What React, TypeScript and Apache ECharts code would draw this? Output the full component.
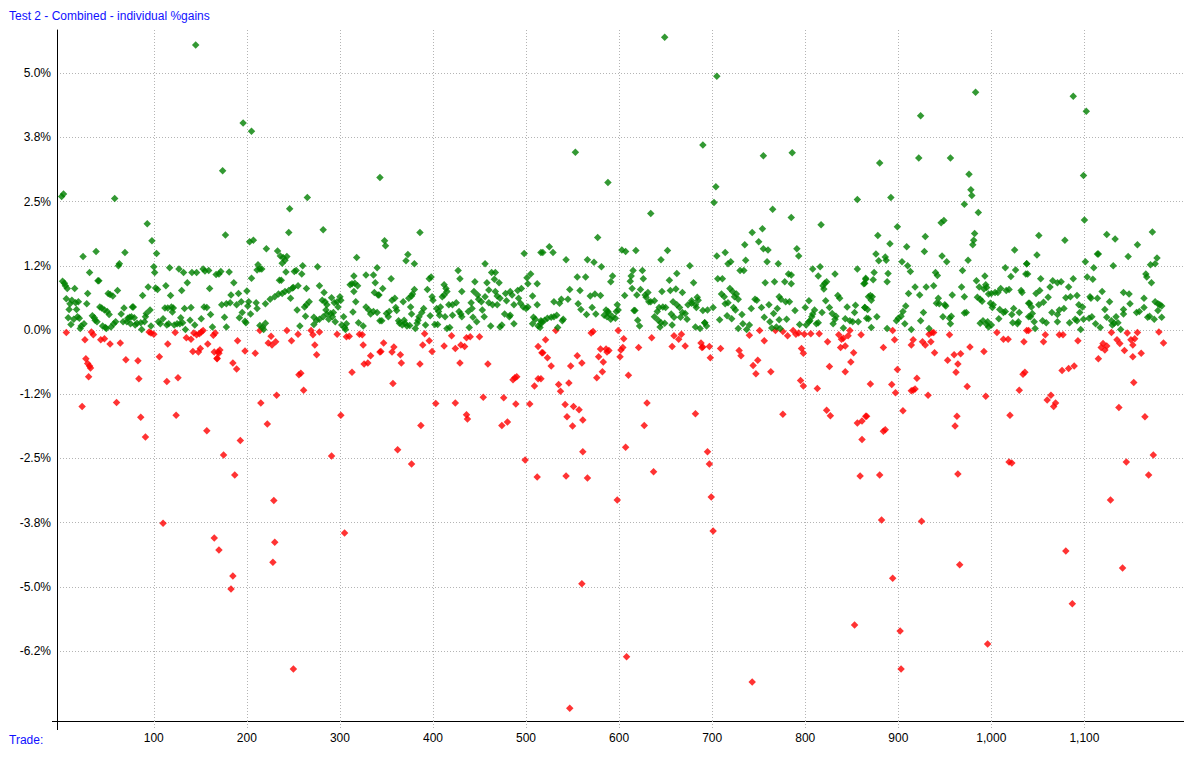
import React, { useEffect, useRef } from "react";
import * as echarts from "echarts";

// Trade number, % gain (winning trades)
const winTrades: [number, number][] = [
[1,2.60],[3,2.65],[58,2.56],[93,2.07],[98,1.74],[103,1.49],[24,1.43],[38,1.53],[69,1.51],[62,1.25],[63,1.29],[31,1.12],[40,0.96],[41,0.96],[100,1.23],[101,1.12],[117,1.21],[127,1.19],[132,1.12],[141,1.12],[146,1.12],[153,1.19],[155,1.15],[159,1.16],[167,1.08],
[2,0.95],[4,0.91],[5,0.86],[7,0.81],[15,0.81],[29,0.71],[6,0.61],[51,0.71],[53,0.69],[56,0.66],[61,0.77],[88,0.67],[94,0.84],[102,0.82],[104,0.79],[113,0.86],[118,0.67],[130,0.77],[136,0.92],[160,0.81],
[12,0.58],[10,0.51],[16,0.53],[19,0.55],[9,0.40],[17,0.40],[8,0.24],[18,0.26],[20,0.23],[14,0.21],[11,0.11],[22,0.08],[25,0.12],[21,0.03],[28,0.51],[42,0.45],[44,0.43],[47,0.39],[50,0.36],[52,0.30],[34,0.28],[36,0.24],[37,0.19],[39,0.16],[45,0.08],[48,0.05],[49,0.03],[54,0.06],[57,0.12],[59,0.16],[65,0.31],[68,0.43],[67,0.16],[71,0.16],[72,0.23],[74,0.25],[76,0.26],[79,0.24],[77,0.45],[78,0.45],[75,0.12],[80,0.10],[82,0.13],[86,0.14],[87,0.01],[90,0.16],[91,0.26],[92,0.32],[96,0.39],[97,0.08],[105,0.16],[107,0.12],[110,0.22],[112,0.43],[115,0.43],[119,0.45],[121,0.43],[120,0.35],[114,0.10],[116,0.12],[122,0.10],[125,0.12],[128,0.12],[131,0.14],[134,0.01],[129,0.24],[133,0.42],[139,0.19],[140,0.44],[144,0.10],[151,0.22],[154,0.45],[157,0.44],[161,0.30],[163,0.06],
[145,5.55],[196,4.03],[205,3.87],
[174,3.10],[343,2.97],[265,2.58],[246,2.36],[177,1.85],[245,1.90],[282,1.95],[203,1.72],[207,1.75],[221,1.58],[233,1.54],[236,1.44],[239,1.41],[243,1.43],[241,1.36],[238,1.30],[318,1.41],[212,1.27],[214,1.19],[211,1.17],[216,1.19],[260,1.25],[276,1.23],[170,1.09],[172,1.14],[181,1.13],[242,1.13],[251,1.14],[253,1.16],[259,1.09],[340,1.21],[315,1.05],[328,1.07],[336,1.07],[205,1.01],[235,0.97],[237,0.97],[186,0.92],[255,0.86],[249,0.82],[264,0.81],[278,0.86],[311,0.88],[313,0.90],[316,0.91],[319,0.86],[315,0.75],[338,0.92],[337,0.73],[341,0.68],[200,0.76],[191,0.71],[183,0.68],[283,0.73],[225,0.60],[230,0.65],[234,0.70],[238,0.71],[241,0.75],[245,0.77],[250,0.83],[247,0.62],[173,0.49],[178,0.51],[182,0.53],[189,0.49],[194,0.55],[202,0.55],[201,0.47],[210,0.53],[220,0.51],[281,0.58],[284,0.55],[286,0.49],[285,0.39],[291,0.63],[294,0.53],[297,0.55],[300,0.65],[301,0.58],[298,0.45],[317,0.55],[267,0.55],[264,0.49],[262,0.45],[254,0.39],[211,0.42],[204,0.31],[195,0.34],[192,0.24],[176,0.25],[328,0.45],[331,0.39],[333,0.31],[336,0.36],[340,0.34],[314,0.35],[263,0.27],[272,0.25],[275,0.19],[278,0.21],[282,0.26],[286,0.31],[290,0.32],[292,0.26],[293,0.34],[288,0.21],[295,0.16],[304,0.26],[199,0.14],[198,0.17],[214,0.09],[217,0.06],[220,0.13],[218,0.01],[178,0.06],[257,0.08],[272,0.11],[302,0.10],[305,0.05],[307,0.12],[306,0.01],[320,0.14],[325,0.08],[343,0.18],
[386,1.90],[348,1.74],[349,1.64],[498,1.49],[516,1.51],[373,1.47],[371,1.35],[380,1.29],[456,1.29],[427,1.16],[429,1.00],[355,1.00],[396,1.00],[398,1.03],[445,0.94],[463,1.12],[467,1.12],[466,0.99],[471,0.92],[458,0.92],[501,1.02],[505,1.09],[502,0.90],[512,0.90],[346,0.81],[342,0.68],[380,0.79],[394,0.79],[412,0.88],[414,0.81],[415,0.75],[431,0.75],[444,0.75],[448,0.68],[449,0.60],[452,0.55],[460,0.78],[467,0.75],[469,0.66],[472,0.62],[478,0.71],[483,0.75],[485,0.68],[491,0.77],[495,0.81],[507,0.66],[374,0.62],[377,0.66],[378,0.70],[356,0.58],[359,0.62],[399,0.65],[400,0.58],[410,0.65],[412,0.68],[368,0.55],[421,0.49],[417,0.49],[425,0.53],[441,0.53],[438,0.36],[442,0.42],[456,0.65],[460,0.53],[464,0.49],[469,0.49],[479,0.57],[487,0.49],[492,0.62],[494,0.52],[497,0.45],[500,0.42],[502,0.45],[512,0.49],[360,0.44],[361,0.38],[353,0.36],[350,0.32],[352,0.26],[376,0.45],[377,0.31],[390,0.42],[388,0.34],[385,0.26],[384,0.19],[404,0.42],[406,0.36],[408,0.45],[407,0.29],[397,0.28],[413,0.26],[421,0.29],[428,0.36],[431,0.26],[430,0.31],[443,0.25],[447,0.16],[453,0.39],[455,0.26],[477,0.31],[482,0.26],[483,0.29],[508,0.25],[510,0.21],[516,0.18],[345,0.18],[363,0.18],[364,0.13],[367,0.10],[370,0.13],[372,0.08],[375,0.09],[369,0.19],[381,0.03],[383,0.13],[392,0.10],[402,0.11],[405,0.11],[415,0.03],[418,0.05],[439,0.05],[462,0.08],[472,0.06],[474,0.10],[487,0.12],[507,0.12],[513,0.08],[515,0.05],[517,0.16],
[588,2.87],[634,2.27],[577,1.80],[553,3.46],[649,5.70],[525,1.62],[529,1.51],[518,1.51],[603,1.56],[607,1.53],[618,1.55],[652,1.55],[543,1.37],[566,1.37],[573,1.32],[581,1.23],[645,1.37],[676,1.25],[555,1.03],[564,1.03],[593,1.05],[591,0.94],[615,1.16],[613,1.05],[612,0.95],[625,1.16],[626,1.00],[662,1.10],[654,0.97],[680,0.92],[547,0.79],[558,0.77],[569,0.66],[574,0.70],[580,0.67],[614,0.81],[606,0.67],[623,0.79],[619,0.68],[628,0.68],[631,0.73],[629,0.64],[632,0.55],[634,0.55],[638,0.57],[646,0.75],[655,0.77],[661,0.80],[668,0.73],[684,0.64],[685,0.58],[678,0.57],[530,0.55],[536,0.52],[538,0.60],[545,0.60],[556,0.51],[559,0.40],[571,0.44],[565,0.30],[575,0.31],[586,0.39],[588,0.36],[589,0.32],[587,0.26],[584,0.29],[598,0.49],[599,0.39],[597,0.36],[591,0.21],[593,0.26],[596,0.23],[616,0.38],[617,0.38],[620,0.19],[622,0.08],[658,0.55],[662,0.49],[665,0.44],[674,0.49],[678,0.52],[682,0.49],[683,0.44],[643,0.44],[647,0.45],[650,0.44],[641,0.36],[638,0.26],[642,0.19],[645,0.14],[649,0.13],[644,0.06],[656,0.31],[659,0.25],[666,0.25],[671,0.32],[673,0.21],[668,0.34],[657,0.10],[682,0.06],[687,0.03],[692,0.14],[516,0.12],[520,0.19],[523,0.23],[527,0.25],[530,0.26],[533,0.29],[539,0.18],[540,0.21],[534,0.05],
[704,2.79],[702,2.48],[705,4.94],[690,3.60],[856,2.54],[765,2.35],[785,2.19],[817,2.05],[743,1.90],[754,1.97],[755,3.39],[786,3.45],[735,1.66],[750,1.72],[705,1.44],[714,1.51],[755,1.58],[760,1.56],[791,1.58],[793,1.44],[717,1.29],[720,1.33],[736,1.36],[759,1.33],[771,1.29],[808,1.19],[816,1.23],[856,1.19],[730,1.16],[734,1.16],[782,1.09],[785,1.07],[814,1.05],[832,1.09],[865,0.99],[863,0.90],[706,1.00],[711,1.00],[757,0.92],[767,0.94],[778,0.94],[785,0.90],[819,0.86],[821,0.91],[823,0.94],[820,0.80],[719,0.81],[722,0.75],[726,0.70],[724,0.65],[728,0.60],[710,0.70],[713,0.65],[717,0.53],[714,0.51],[746,0.60],[748,0.58],[772,0.65],[774,0.60],[779,0.55],[783,0.55],[804,0.57],[822,0.57],[835,0.67],[837,0.62],[690,0.38],[695,0.39],[701,0.44],[723,0.44],[725,0.39],[742,0.42],[753,0.44],[761,0.49],[770,0.42],[800,0.44],[810,0.39],[826,0.44],[845,0.45],[854,0.48],[864,0.44],[789,0.38],[716,0.28],[721,0.22],[708,0.20],[732,0.30],[756,0.25],[766,0.32],[772,0.20],[780,0.21],[807,0.26],[808,0.31],[805,0.18],[818,0.34],[829,0.32],[833,0.27],[832,0.21],[830,0.12],[843,0.22],[848,0.18],[851,0.16],[857,0.16],[853,0.34],[692,0.14],[694,0.08],[728,0.03],[733,0.12],[737,0.01],[740,0.10],[762,0.16],[764,0.04],[769,0.06],[773,0.03],[794,0.11],[801,0.10],[804,0.16],[812,0.12],[814,0.14],[841,0.04],[866,0.23],
[880,3.25],[924,4.17],[922,3.35],[956,3.35],[983,4.63],[976,3.03],[978,2.73],[979,2.62],[971,2.45],[986,2.29],[892,2.58],[899,2.01],[946,2.09],[949,2.13],[878,1.84],[891,1.68],[929,1.82],[909,1.62],[928,1.53],[982,1.88],[981,1.75],[980,1.66],[1025,1.56],[876,1.48],[879,1.35],[886,1.42],[887,1.36],[904,1.33],[910,1.25],[913,1.14],[947,1.44],[952,1.33],[975,1.36],[969,1.16],[1015,1.21],[1026,1.17],[1038,1.29],[1021,1.04],[1037,1.09],[874,1.12],[873,0.98],[889,1.10],[888,0.94],[865,1.01],[864,0.91],[940,1.12],[942,1.06],[984,0.96],[987,0.84],[993,1.05],[918,0.84],[930,0.84],[938,0.86],[968,0.84],[971,0.65],[911,0.71],[923,0.68],[958,0.68],[994,0.88],[995,0.83],[992,0.80],[870,0.67],[871,0.58],[868,0.65],[872,0.65],[943,0.62],[944,0.51],[941,0.52],[950,0.49],[951,0.47],[985,0.64],[988,0.60],[990,0.56],[997,0.70],[1000,0.71],[1004,0.73],[1007,0.73],[1010,0.81],[1016,0.77],[1019,0.79],[1032,0.77],[1033,0.73],[999,0.52],[1002,0.49],[1001,0.44],[1009,0.40],[1013,0.34],[1015,0.36],[1024,0.42],[1022,0.30],[1030,0.34],[1040,0.52],[864,0.44],[867,0.40],[908,0.47],[905,0.36],[903,0.27],[900,0.23],[898,0.18],[927,0.34],[924,0.18],[948,0.26],[955,0.23],[957,0.27],[956,0.12],[971,0.33],[973,0.34],[868,0.22],[877,0.26],[907,0.12],[871,0.05],[888,0.03],[914,0.01],[933,0.03],[988,0.13],[991,0.18],[995,0.11],[997,0.06],[1000,0.10],[996,0.16],[1008,0.22],[1023,0.14],[1028,0.12],[1029,0.16],[1040,0.26],
[1088,4.55],[1102,4.26],[1099,3.01],[1100,2.14],[1051,1.84],[1079,1.75],[1124,1.86],[1133,1.77],[1173,1.91],[1157,1.66],[1049,1.46],[1114,1.48],[1115,1.48],[1147,1.43],[1178,1.40],[1176,1.29],[1171,1.27],[1101,1.33],[1131,1.25],[1110,1.21],[1038,1.29],[1039,1.09],[1166,1.09],[1167,1.03],[1172,0.92],[1053,1.00],[1066,0.96],[1071,0.92],[1075,0.94],[1088,1.00],[1083,0.84],[1103,1.03],[1109,0.99],[1063,0.84],[1048,0.71],[1052,0.77],[1061,0.64],[1080,0.63],[1085,0.65],[1092,0.67],[1106,0.65],[1107,0.62],[1114,0.62],[1119,0.75],[1142,0.73],[1148,0.70],[1164,0.62],[1127,0.55],[1176,0.55],[1179,0.51],[1181,0.49],[1183,0.47],[1041,0.52],[1043,0.45],[1051,0.49],[1056,0.54],[1078,0.42],[1073,0.39],[1071,0.30],[1065,0.34],[1094,0.49],[1098,0.45],[1095,0.34],[1122,0.40],[1142,0.40],[1149,0.51],[1156,0.34],[1159,0.36],[1164,0.44],[1179,0.38],[1183,0.25],[1044,0.32],[1042,0.26],[1046,0.16],[1047,0.03],[1055,0.18],[1059,0.14],[1071,0.16],[1084,0.14],[1090,0.21],[1092,0.18],[1099,0.21],[1105,0.23],[1108,0.26],[1112,0.12],[1117,0.05],[1096,0.01],[1124,0.25],[1129,0.18],[1132,0.13],[1134,0.26],[1130,0.10],[1136,0.14],[1139,0.01],[1142,0.31],[1168,0.25],[1170,0.27],[1175,0.21]
];

// Trade number, % gain (losing trades)
const lossTrades: [number, number][] = [
[6,-0.05],[26,-0.19],[33,-0.04],[35,-0.09],[43,-0.19],[47,-0.17],[53,-0.27],[64,-0.25],[27,-0.56],[29,-0.65],[31,-0.70],[32,-0.74],[30,-0.91],[70,-0.58],[83,-0.60],[84,-0.95],[95,-0.04],[97,-0.06],[100,-0.08],[106,-0.52],[115,-0.27],[114,-1.00],[123,-0.05],[126,-0.93],[135,-0.15],[140,-0.18],[143,-0.06],[146,-0.09],[149,-0.07],[151,-0.04],[153,-0.01],[142,-0.42],[148,-0.43],[150,-0.36],[158,-0.27],[164,-0.10],[166,-0.06],[165,-0.43],[168,-0.56],[169,-0.43],[23,-1.49],[60,-1.41],[86,-1.70],[91,-2.08],[124,-1.66],[157,-1.96],
[110,-3.76],[165,-4.05],[170,-4.28],[185,-4.79],[183,-5.04],[175,-2.43],[187,-2.82],[193,-2.15],
[214,-0.01],[226,-0.12],[223,-0.25],[227,-0.29],[231,-0.23],[190,-0.21],[198,-0.41],[209,-0.45],[171,-0.39],[170,-0.45],[168,-0.55],[185,-0.64],[189,-0.76],[243,-0.01],[248,-0.21],[255,-0.08],[269,-0.01],[271,-0.09],[278,-0.04],[273,-0.29],[275,-0.48],[297,-0.08],[307,-0.13],[310,-0.12],[321,-0.08],[324,-0.09],[325,-0.29],[333,-0.50],[326,-0.66],[330,-0.64],[343,-0.43],[313,-0.82],[256,-0.87],[258,-0.84],[261,-1.17],[232,-1.27],[215,-1.42],[222,-1.83],[301,-1.66],
[229,-3.32],[230,-4.13],[228,-4.52],[250,-6.60],[291,-2.45],[305,-3.95],
[391,-0.07],[396,-0.21],[389,-0.29],[399,-0.42],[347,-0.25],[344,-0.42],[356,-0.43],[358,-0.33],[365,-0.48],[366,-0.64],[386,-0.66],[412,-0.31],[420,-0.11],[424,-0.36],[430,-0.29],[434,-0.32],[436,-0.15],[440,-0.13],[450,-0.13],[429,-0.64],[459,-0.66],[513,-0.32],[517,-0.44],[486,-0.97],[488,-0.93],[490,-0.91],[513,-0.95],[509,-1.09],[357,-1.04],[403,-1.43],[424,-1.42],[454,-1.31],[476,-1.32],[489,-1.44],[504,-1.44],[436,-1.65],[437,-1.73],[474,-1.86],[480,-1.79],[387,-1.86],
[362,-2.33],[377,-2.61],[499,-2.53],[512,-2.86],
[532,-0.01],[570,-0.06],[572,-0.03],[599,-0.01],[605,-0.17],[521,-0.19],[518,-0.44],[523,-0.54],[527,-0.70],[555,-0.50],[560,-0.64],[548,-0.70],[580,-0.37],[586,-0.37],[589,-0.40],[587,-0.43],[578,-0.52],[583,-0.62],[602,-0.39],[604,-0.34],[601,-0.52],[621,-0.34],[635,-0.15],[659,-0.11],[664,-0.18],[667,-0.08],[671,-0.31],[657,-0.32],[688,-0.25],[689,-0.34],[582,-0.81],[576,-0.93],[610,-0.88],[535,-1.06],[537,-1.19],[546,-1.03],[516,-0.95],[542,-1.45],[551,-1.49],[557,-1.55],[544,-1.69],[550,-1.87],[561,-1.75],[630,-1.42],[627,-1.86],[682,-1.63],
[547,-7.36],[543,-2.84],[560,-4.94],[566,-2.88],[561,-2.37],[598,-3.31],[607,-2.28],[608,-6.36],[637,-2.76],
[751,-0.01],[768,-0.01],[740,-0.10],[756,-0.21],[776,-0.03],[781,-0.11],[787,-0.01],[790,-0.08],[793,-0.06],[799,-0.08],[806,-0.07],[815,-0.07],[824,-0.23],[836,-0.09],[839,-0.18],[841,-0.16],[846,-0.11],[848,-0.01],[860,-0.09],[838,-0.34],[843,-0.31],[852,-0.44],[849,-0.62],[690,-0.33],[697,-0.32],[709,-0.36],[698,-0.54],[729,-0.40],[731,-0.50],[749,-0.59],[744,-0.69],[747,-0.85],[796,-0.36],[798,-0.45],[763,-0.81],[826,-0.71],[843,-0.81],[795,-0.98],[798,-1.09],[813,-1.14],[776,-1.64],[823,-1.56],[827,-1.67],[856,-1.81],[861,-1.77],[865,-1.68],[861,-2.13],
[743,-6.85],[853,-5.74],[695,-2.37],[697,-2.61],[699,-3.25],[701,-3.91],[859,-2.84],
[894,-0.01],[896,-0.19],[884,-0.34],[914,-0.29],[916,-0.19],[926,-0.23],[929,-0.29],[935,-0.23],[933,-0.08],[936,-0.05],[938,-0.05],[939,-0.44],[955,-0.09],[953,-0.59],[960,-0.48],[964,-0.66],[967,-0.46],[962,-0.82],[977,-0.33],[992,-0.42],[1006,-0.05],[1013,-0.18],[1018,-0.18],[1035,-0.23],[1040,-0.01],[899,-0.77],[920,-0.94],[914,-1.18],[918,-1.15],[916,-1.17],[893,-1.06],[897,-1.22],[870,-1.05],[932,-1.27],[974,-1.10],[994,-1.29],[1034,-0.86],[1036,-0.82],[1030,-1.17],[905,-1.57],[866,-1.68],[963,-1.68],[961,-1.87],[1020,-1.66],[884,-1.97],[886,-1.94],
[882,-3.70],[880,-2.82],[894,-4.83],[902,-5.86],[903,-6.60],[925,-3.72],[966,-4.57],[964,-2.80],[996,-6.11],[1022,-2.59],[1019,-2.57],
[1038,-0.01],[1058,-0.09],[1056,-0.23],[1073,-0.09],[1077,-0.09],[1093,-0.21],[1129,-0.05],[1120,-0.26],[1118,-0.34],[1122,-0.39],[1124,-0.31],[1135,-0.19],[1138,-0.26],[1146,-0.06],[1157,-0.05],[1150,-0.19],[1154,-0.17],[1152,-0.29],[1143,-0.40],[1152,-0.52],[1161,-0.45],[1180,-0.04],[1185,-0.25],[1115,-0.56],[1076,-0.79],[1083,-0.75],[1089,-0.70],[1153,-1.02],[1064,-1.27],[1060,-1.36],[1069,-1.42],[1067,-1.49],[1137,-1.51],[1165,-1.69],
[1080,-4.30],[1087,-5.33],[1128,-3.31],[1141,-4.63],[1145,-2.57],[1169,-2.82],[1174,-2.43]
];

const yTickValues = [-6.25, -5, -3.75, -2.5, -1.25, 0, 1.25, 2.5, 3.75, 5];
const xTickValues = [100, 200, 300, 400, 500, 600, 700, 800, 900, 1000, 1100];
const X_MIN = -4;
const X_MAX = 1207;
const Y_MIN = -7.61;
const Y_MAX = 5.84;

function pctLabel(v: number): string {
  const s = v * 10;
  const f = Math.floor(s);
  let r: number;
  if (Math.abs(s - f - 0.5) < 1e-9) r = f % 2 === 0 ? f : f + 1;
  else r = Math.round(s);
  return (r / 10).toFixed(1) + "%";
}

function tradeLabel(v: number): string {
  return String(Math.round(v)).replace(/\B(?=(\d{3})+(?!\d))/g, ",");
}

const FONT = "'Liberation Sans', Arial, sans-serif";
const GRID_COLOR = "#b4b4b4";

export default function App() {
  const ref = useRef<HTMLDivElement>(null);
  useEffect(() => {
    if (!ref.current) return;
    const chart = echarts.init(ref.current, undefined, { renderer: "svg" });
    chart.setOption({
      animation: false,
      backgroundColor: "#ffffff",
      title: [
        {
          text: "Test 2 - Combined - individual %gains",
          left: 4,
          top: 5,
          textStyle: { color: "#1010ff", fontSize: 12, fontWeight: "normal", fontFamily: FONT },
        },
        {
          text: "Trade:",
          left: 4,
          top: 729,
          textStyle: { color: "#1010ff", fontSize: 12, fontWeight: "normal", fontFamily: FONT },
        },
      ],
      grid: { left: 57, right: 0, top: 30, bottom: 40, containLabel: false },
      xAxis: {
        type: "value",
        min: X_MIN,
        max: X_MAX,
        axisLine: { show: true, onZero: false, lineStyle: { color: "#000", width: 1 } },
        axisTick: {
          show: true,
          customValues: xTickValues,
          length: 9,
          lineStyle: { color: GRID_COLOR, type: [1, 2] },
        },
        axisLabel: {
          customValues: xTickValues,
          formatter: tradeLabel,
          color: "#000",
          fontSize: 12,
          fontFamily: FONT,
          margin: 11,
        },
        splitLine: { show: true, lineStyle: { color: GRID_COLOR, type: [1, 2] } },
      },
      yAxis: {
        type: "value",
        min: Y_MIN,
        max: Y_MAX,
        axisLine: { show: true, onZero: false, lineStyle: { color: "#000", width: 1 } },
        axisTick: {
          show: false,
          customValues: yTickValues,
        },
        axisLabel: {
          customValues: yTickValues,
          formatter: pctLabel,
          color: "#000",
          fontSize: 12,
          fontFamily: FONT,
          margin: 6,
        },
        splitLine: { show: true, lineStyle: { color: GRID_COLOR, type: [1, 2] } },
      },
      graphic: [
        {
          type: "line",
          shape: { x1: 57.5, y1: 721, x2: 57.5, y2: 730 },
          style: { stroke: "#000", lineWidth: 1 },
          z: 10,
        },
        {
          type: "line",
          shape: { x1: 52, y1: 721.5, x2: 58, y2: 721.5 },
          style: { stroke: "#000", lineWidth: 1 },
          z: 10,
        },
      ],
      series: [
        {
          name: "Losses",
          type: "scatter",
          symbol: "diamond",
          symbolSize: 7.5,
          itemStyle: { color: "#ff0000" },
          data: lossTrades,
          z: 3,
        },
        {
          name: "Gains",
          type: "scatter",
          symbol: "diamond",
          symbolSize: 7.5,
          itemStyle: { color: "#008000" },
          data: winTrades,
          z: 3,
        },
      ],
    });
    return () => chart.dispose();
  }, []);
  return (
    <div
      ref={ref}
      style={{ position: "absolute", left: 0, top: 0, width: 1184, height: 761 }}
    />
  );
}
